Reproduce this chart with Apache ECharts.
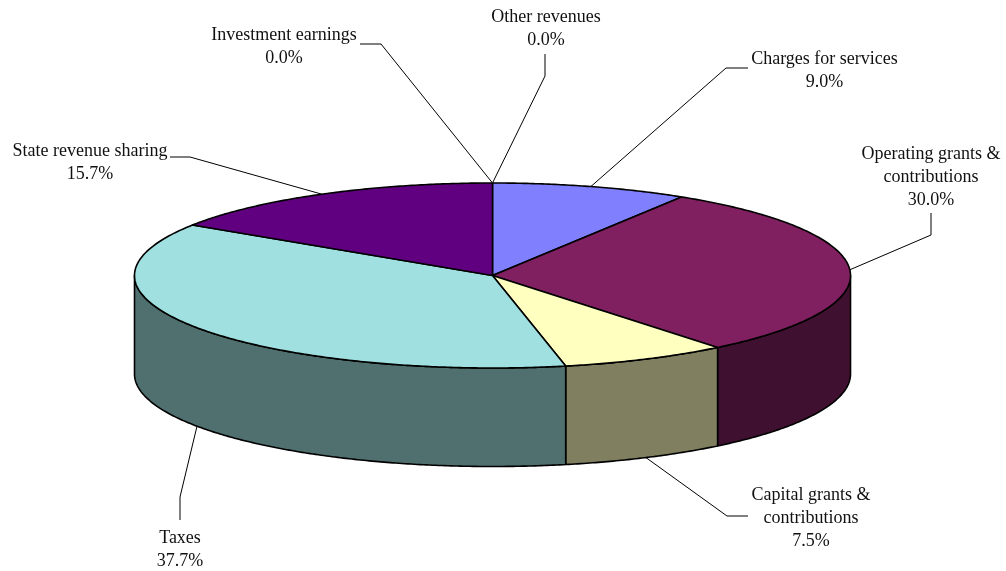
<!DOCTYPE html>
<html>
<head>
<meta charset="utf-8">
<style>html,body{margin:0;padding:0;background:#fff}#c{width:1006px;height:571px}</style>
<script src="https://cdn.jsdelivr.net/npm/echarts@6/dist/echarts.min.js"></script>
</head>
<body>
<div id="c"></div>
<script>
var categories = ['Charges for services','Operating grants &\ncontributions','Capital grants &\ncontributions','Taxes','State revenue sharing','Investment earnings','Other revenues'];
var shares = [9.0, 30.0, 7.5, 37.7, 15.7, 0.0, 0.0];
var topColors = ['#8080FF','#802060','#FFFFC0','#A0E0E0','#600080','#C0C0C0','#808080'];
var sideColors = ['#404080','#401030','#808060','#507070','#300040','#606060','#404040'];
// label layout: text centre, outer end of the leader, elbow of the leader
var labelAt = [[824.5,70.5],[931,177],[811,518],[180,549.5],[90,162.5],[284,46.5],[546,28.5]];
var stubEnd = [[748,68],[931,213],[748,516],[180,520],[170,157],[360,44],[545,54]];
var elbow = [[726,68],[931,235],[727,516],[180,497],[190,157],[381,44],[545,76]];

var CX = 492.5, CY = 275.5, RX = 358, RY = 92.5, DEPTH = 98.5;
var SKEW = 0.65; // small projection correction, degrees, fading out at the 12 o'clock seam
var total = shares.reduce(function (a, b) { return a + b; }, 0);
var starts = [];
shares.reduce(function (acc, v, i) { starts[i] = acc; return acc + v; }, 0);
function ang(cum) {
  var f = cum / total, d = f * 360;
  return d - SKEW * Math.cos(d * Math.PI / 180) * Math.min(1, f * 20, (1 - f) * 20);
}
function pt(deg, dy) {
  var r = deg * Math.PI / 180;
  return [CX + RX * Math.sin(r), CY - RY * Math.cos(r) + (dy || 0)];
}
function arc(a0, a1, dy) {
  var pts = [], n = Math.max(2, Math.ceil((a1 - a0) / 0.5));
  for (var i = 0; i <= n; i++) pts.push(pt(a0 + (a1 - a0) * i / n, dy));
  return pts;
}
function renderItem(params, api) {
  var i = params.dataIndex, v = api.value(0);
  var a0 = ang(starts[i]), a1 = ang(starts[i] + v), mid = (a0 + a1) / 2;
  var kids = [];
  var front = mid > 90 && mid < 270;
  var anchor = pt(mid, front ? DEPTH : 0);
  kids.push({ type: 'polyline', z2: 1, silent: true,
    shape: { points: [stubEnd[i], elbow[i], anchor] },
    style: { stroke: '#000', lineWidth: 1, fill: null } });
  var s0 = Math.max(a0, 90), s1 = Math.min(a1, 270);
  if (s1 > s0) {
    var upper = arc(s0, s1, 0), lower = arc(s0, s1, DEPTH).reverse();
    kids.push({ type: 'polygon', z2: 2, silent: true,
      shape: { points: upper.concat(lower) },
      style: { fill: sideColors[i], stroke: '#000', lineWidth: 1.6, lineJoin: 'round' } });
  }
  if (v > 0) {
    kids.push({ type: 'polygon', z2: 3, silent: true,
      shape: { points: [[CX, CY]].concat(arc(a0, a1, 0)) },
      style: { fill: topColors[i], stroke: '#000', lineWidth: 1.6, lineJoin: 'round' } });
  }
  kids.push({ type: 'text', z2: 4, silent: true,
    style: { x: labelAt[i][0], y: labelAt[i][1], align: 'center', verticalAlign: 'middle',
      text: categories[i] + '\n' + v.toFixed(1) + '%',
      font: '18px "Liberation Serif"', lineHeight: 23, fill: '#111' } });
  return { type: 'group', children: kids };
}
var chart = echarts.init(document.getElementById('c'), null, { renderer: 'canvas' });
chart.setOption({
  animation: false,
  backgroundColor: '#fff',
  series: [{ type: 'custom', coordinateSystem: 'none', renderItem: renderItem,
    data: shares.map(function (v) { return [v]; }) }]
});
</script>
</body>
</html>
